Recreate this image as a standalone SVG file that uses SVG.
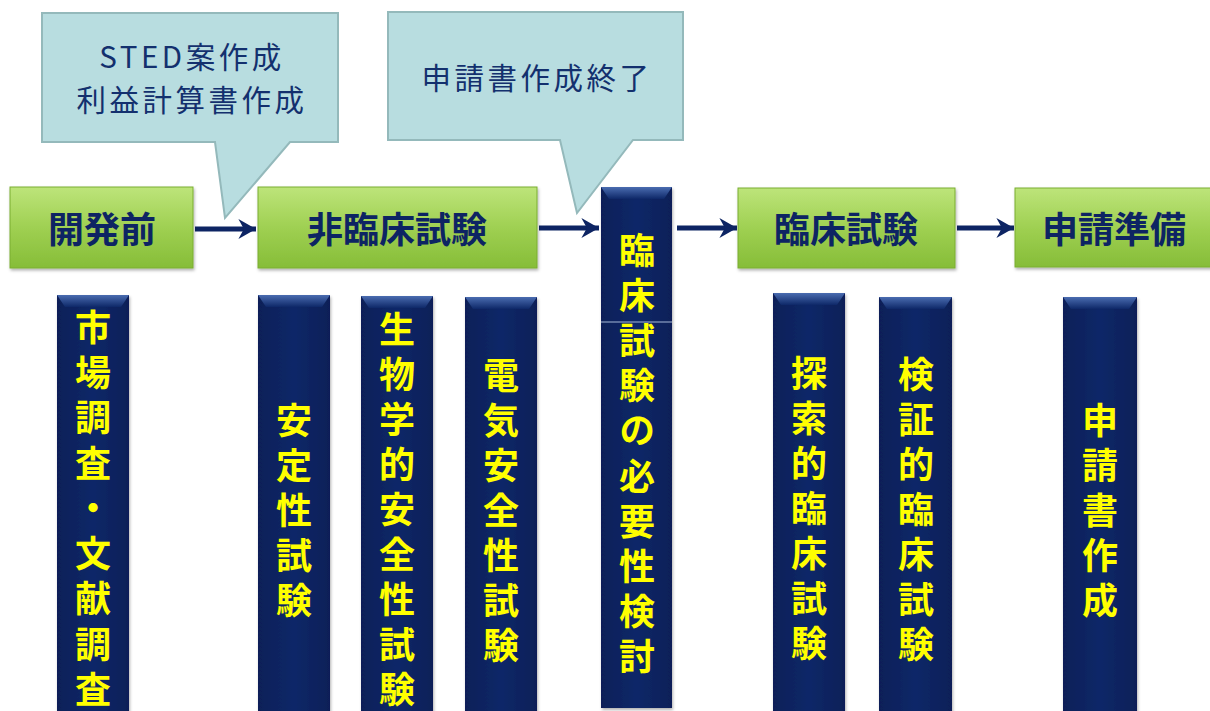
<svg xmlns="http://www.w3.org/2000/svg" width="1210" height="711" viewBox="0 0 1210 711">
<defs>
<linearGradient id="gGreen" x1="0" y1="0" x2="0" y2="1">
<stop offset="0" stop-color="#bde47a"/>
<stop offset="0.5" stop-color="#9fd052"/>
<stop offset="1" stop-color="#86bd38"/>
</linearGradient>
<linearGradient id="gNavy" x1="0" y1="0" x2="1" y2="0">
<stop offset="0" stop-color="#0a1f58"/>
<stop offset="0.5" stop-color="#0e2868"/>
<stop offset="1" stop-color="#0a1f58"/>
</linearGradient>
<linearGradient id="gBevel" x1="0" y1="0" x2="0" y2="1">
<stop offset="0" stop-color="#4a6cb0"/>
<stop offset="1" stop-color="#0e2868"/>
</linearGradient>
<filter id="sh" x="-10%" y="-10%" width="130%" height="130%">
<feDropShadow dx="1" dy="2" stdDeviation="1.5" flood-color="#000" flood-opacity="0.3"/>
</filter>
<marker id="ah" viewBox="0 0 10 10" refX="9" refY="5" markerWidth="4.4" markerHeight="4.4" orient="auto" markerUnits="strokeWidth">
<path d="M1,0.5 L9,5 L1,9.5 L3.5,5 Z" fill="#0d2463"/>
</marker>
<style>
.green{fill:url(#gGreen);stroke:#7aae30;stroke-width:1;filter:url(#sh)}
.navy{fill:url(#gNavy);filter:url(#sh)}
.bevel{fill:url(#gBevel)}
.call{fill:#b8dde0;stroke:#94b9bb;stroke-width:2}
.gl{font-family:"Noto Sans CJK JP","Noto Sans CJK SC",sans-serif;font-weight:bold;font-size:36px;fill:#0d2463;text-anchor:middle}
.cl{font-family:"Noto Sans CJK JP","Noto Sans CJK SC",sans-serif;font-size:29.5px;fill:#13306e;text-anchor:middle;letter-spacing:3.5px}
.vl{font-family:"Noto Sans CJK JP","Noto Sans CJK SC",sans-serif;font-weight:bold;font-size:36px;fill:#ffff00;writing-mode:vertical-rl;text-anchor:start}
.conn{stroke:#0d2463;stroke-width:5;fill:none;marker-end:url(#ah)}
</style>
</defs>
<rect width="1210" height="711" fill="#ffffff"/>

<g id="connectors">
<line class="conn" x1="195" y1="229" x2="256" y2="229"/>
<line class="conn" x1="539" y1="228" x2="599" y2="228"/>
<line class="conn" x1="677" y1="228" x2="737" y2="228"/>
<line class="conn" x1="957" y1="228" x2="1014" y2="228"/>
</g>

<g id="callout1">
<path class="call" d="M42,13 H338 V142 H290 L225,218 L215,142 H42 Z"/>
<text class="cl" x="192" y="68">STED案作成</text>
<text class="cl" x="192" y="111">利益計算書作成</text>
</g>
<g id="callout2">
<path class="call" d="M388,12 H683 V140 H633 L577,213 L560,140 H388 Z"/>
<text class="cl" x="537" y="89">申請書作成終了</text>
</g>

<g id="n-kaihatsumae">
<rect class="green" x="10" y="187" width="183" height="81"/>
<text class="gl" x="102" y="243">開発前</text>
</g>
<g id="n-hirinsho">
<rect class="green" x="258" y="187" width="279" height="81"/>
<text class="gl" x="397" y="243">非臨床試験</text>
</g>
<g id="n-rinsho">
<rect class="green" x="738" y="188" width="217" height="80"/>
<text class="gl" x="846" y="243">臨床試験</text>
</g>
<g id="n-shinsei">
<rect class="green" x="1015" y="188" width="197" height="79"/>
<text class="gl" x="1114" y="243">申請準備</text>
</g>

<g id="c-shijo">
<rect class="navy" x="57" y="295" width="72" height="420"/>
<path class="bevel" d="M57,295 H129 L121,307 H65 Z"/>
<text class="vl" x="93" y="309" style="letter-spacing:9.3px">市場調査・文献調査</text>
</g>
<g id="c-anteisei">
<rect class="navy" x="258" y="295" width="72" height="420"/>
<path class="bevel" d="M258,295 H330 L322,307 H266 Z"/>
<text class="vl" x="294" y="402" style="letter-spacing:9px">安定性試験</text>
</g>
<g id="c-seibutsu">
<rect class="navy" x="361" y="296" width="72" height="420"/>
<path class="bevel" d="M361,296 H433 L425,308 H369 Z"/>
<text class="vl" x="397" y="311" style="letter-spacing:9px">生物学的安全性試験</text>
</g>
<g id="c-denki">
<rect class="navy" x="465" y="297" width="72" height="420"/>
<path class="bevel" d="M465,297 H537 L529,309 H473 Z"/>
<text class="vl" x="501" y="357" style="letter-spacing:9px">電気安全性試験</text>
</g>
<g id="c-hitsuyosei">
<rect class="navy" x="601" y="187" width="71" height="521"/>
<path class="bevel" d="M601,187 H672 L664,199 H609 Z"/>
<line x1="601" y1="322" x2="672" y2="322" stroke="#9fb0d0" stroke-width="1.5" opacity="0.7"/>
<text class="vl" x="637" y="232" style="letter-spacing:9.2px">臨床試験の必要性検討</text>
</g>
<g id="c-tansaku">
<rect class="navy" x="773" y="293" width="72" height="420"/>
<path class="bevel" d="M773,293 H845 L837,305 H781 Z"/>
<text class="vl" x="809" y="355" style="letter-spacing:9px">探索的臨床試験</text>
</g>
<g id="c-kensho">
<rect class="navy" x="879" y="297" width="73" height="420"/>
<path class="bevel" d="M879,297 H952 L944,309 H887 Z"/>
<text class="vl" x="916" y="356" style="letter-spacing:9px">検証的臨床試験</text>
</g>
<g id="c-shinseisho">
<rect class="navy" x="1063" y="297" width="74" height="420"/>
<path class="bevel" d="M1063,297 H1137 L1129,309 H1071 Z"/>
<text class="vl" x="1100" y="402" style="letter-spacing:9px">申請書作成</text>
</g>
</svg>
